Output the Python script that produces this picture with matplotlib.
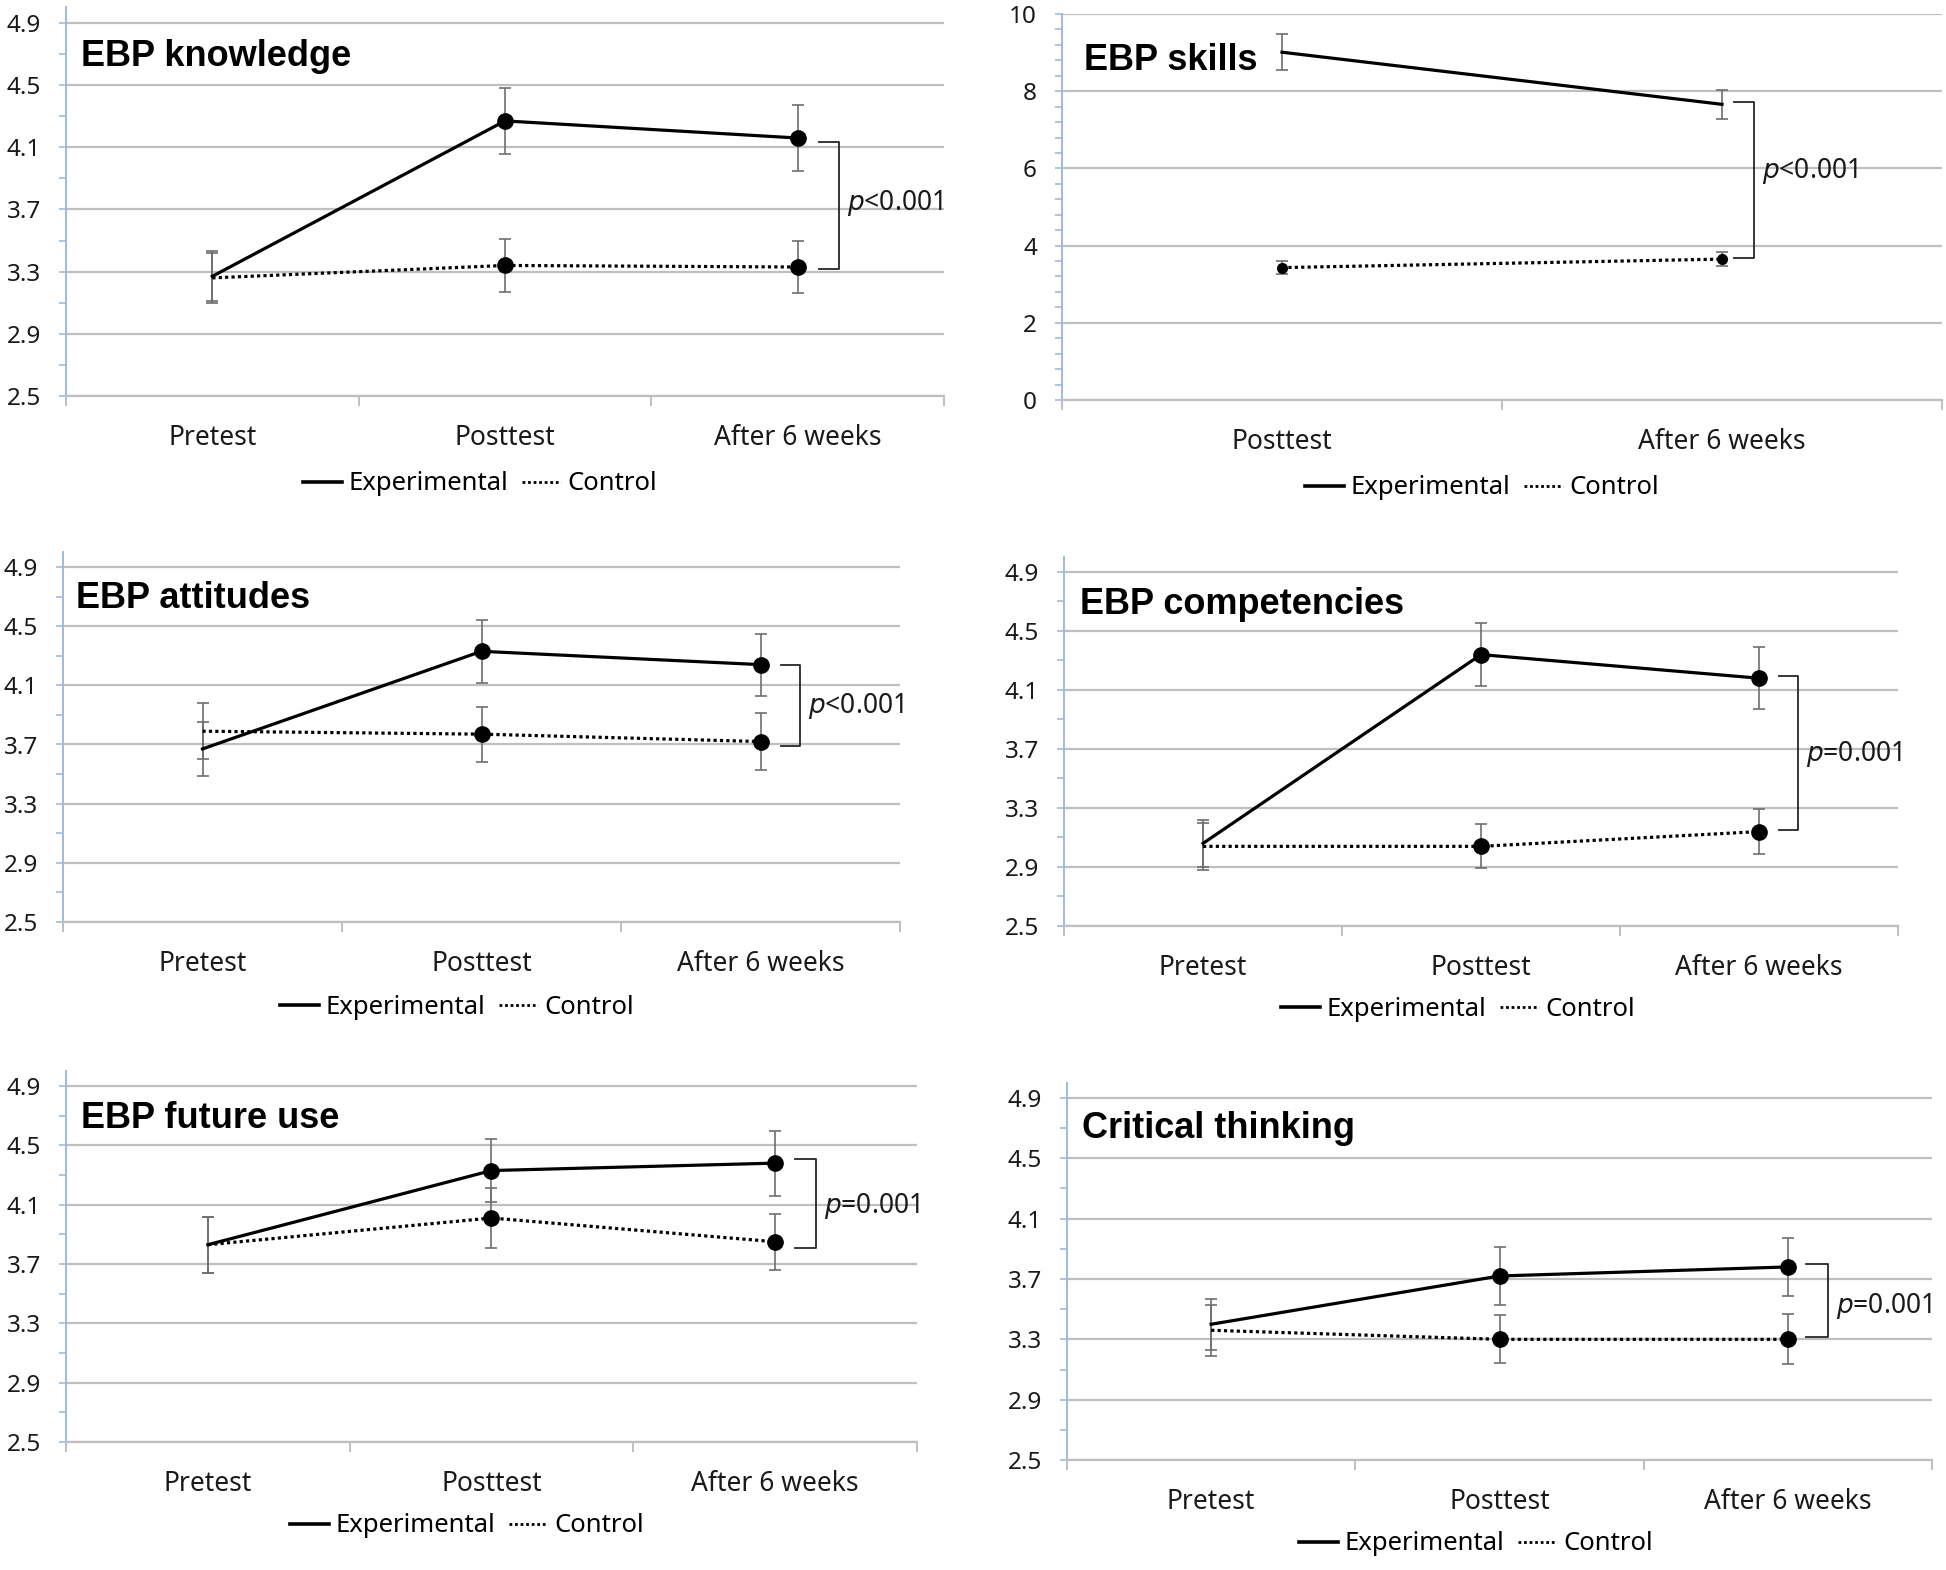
import matplotlib

matplotlib.use("Agg")
import matplotlib.pyplot as plt
from matplotlib.lines import Line2D
import numpy as np

plt.rcParams["font.family"] = ["Noto Sans", "DejaVu Sans"]

# ---- data ----
stages = ["Pretest", "Posttest", "After 6 weeks"]
stages_skills = ["Posttest", "After 6 weeks"]

knowledge_exp = [3.27, 4.27, 4.16]
knowledge_exp_err = [0.16, 0.21, 0.21]
knowledge_ctl = [3.26, 3.34, 3.33]
knowledge_ctl_err = [0.16, 0.17, 0.17]

skills_exp = [9.01, 7.66]
skills_exp_err = [0.46, 0.38]
skills_ctl = [3.43, 3.65]
skills_ctl_err = [0.17, 0.19]

attitudes_exp = [3.67, 4.33, 4.24]
attitudes_exp_err = [0.185, 0.215, 0.21]
attitudes_ctl = [3.79, 3.77, 3.72]
attitudes_ctl_err = [0.19, 0.185, 0.19]

competencies_exp = [3.06, 4.34, 4.18]
competencies_exp_err = [0.16, 0.215, 0.21]
competencies_ctl = [3.04, 3.04, 3.14]
competencies_ctl_err = [0.16, 0.15, 0.155]

future_exp = [3.83, 4.33, 4.38]
future_exp_err = [0.19, 0.215, 0.22]
future_ctl = [3.83, 4.01, 3.85]
future_ctl_err = [0.19, 0.20, 0.19]

critical_exp = [3.40, 3.72, 3.78]
critical_exp_err = [0.17, 0.19, 0.19]
critical_ctl = [3.36, 3.30, 3.30]
critical_ctl_err = [0.17, 0.16, 0.165]

titles = ["EBP knowledge", "EBP skills", "EBP attitudes",
          "EBP competencies", "EBP future use", "Critical thinking"]
p_labels = [r"$p$<0.001", r"$p$<0.001", r"$p$<0.001",
            r"$p$=0.001", r"$p$=0.001", r"$p$=0.001"]

# ---- layout (pixels in a 1946x1570 canvas) ----
W, H = 1946, 1570
SPINE_BLUE = "#9DBBDD"
GRID_GRAY = "#BFBFBF"
ERR_GRAY = "#6E6E6E"
TITLE_FONT = ["Liberation Sans", "DejaVu Sans"]

panels = [
    dict(cats=stages, exp=knowledge_exp, exp_err=knowledge_exp_err,
         ctl=knowledge_ctl, ctl_err=knowledge_ctl_err,
         box=(66, 944, 23, 396), ymin=2.5, ytop=4.9, ymax=5.0, step=0.4,
         title_px=(81, 57), legend_px=(480, 484),
         bracket=(2.073, 2.141, 2.17, 4.134, 3.316, 3.74)),
    dict(cats=stages_skills, exp=skills_exp, exp_err=skills_exp_err,
         ctl=skills_ctl, ctl_err=skills_ctl_err,
         box=(1062, 1942, 14, 400), ymin=0, ytop=10, ymax=10, step=2,
         title_px=(1084, 61), legend_px=(1482, 488),
         bracket=(1.027, 1.072, 1.092, 7.72, 3.68, 5.92)),
    dict(cats=stages, exp=attitudes_exp, exp_err=attitudes_exp_err,
         ctl=attitudes_ctl, ctl_err=attitudes_ctl_err,
         box=(63, 900, 567, 922), ymin=2.5, ytop=4.9, ymax=5.0, step=0.4,
         title_px=(76, 598), legend_px=(457, 1007),
         bracket=(2.075, 2.142, 2.17, 4.238, 3.69, 3.957)),
    dict(cats=stages, exp=competencies_exp, exp_err=competencies_exp_err,
         ctl=competencies_ctl, ctl_err=competencies_ctl_err,
         box=(1064, 1898, 572, 926), ymin=2.5, ytop=4.9, ymax=5.0, step=0.4,
         title_px=(1080, 604), legend_px=(1458, 1009),
         bracket=(2.071, 2.141, 2.168, 4.193, 3.149, 3.668)),
    dict(cats=stages, exp=future_exp, exp_err=future_exp_err,
         ctl=future_ctl, ctl_err=future_ctl_err,
         box=(66, 917, 1086, 1442), ymin=2.5, ytop=4.9, ymax=5.0, step=0.4,
         title_px=(81, 1118), legend_px=(467, 1526),
         bracket=(2.069, 2.145, 2.172, 4.408, 3.808, 4.089)),
    dict(cats=stages, exp=critical_exp, exp_err=critical_exp_err,
         ctl=critical_ctl, ctl_err=critical_ctl_err,
         box=(1067, 1932, 1098, 1460), ymin=2.5, ytop=4.9, ymax=5.0, step=0.4,
         title_px=(1082, 1129), legend_px=(1476, 1544),
         bracket=(2.063, 2.141, 2.168, 3.798, 3.318, 3.518)),
]

fig = plt.figure(figsize=(W / 100, H / 100), dpi=100, facecolor="white")

for i, spec in enumerate(panels):
    x0, x1, y_top_px, y_bot_px = spec["box"]
    ppu = (y_bot_px - y_top_px) / (spec["ytop"] - spec["ymin"])
    ax_top_px = y_top_px - (spec["ymax"] - spec["ytop"]) * ppu
    ax = fig.add_axes([x0 / W, 1 - y_bot_px / H, (x1 - x0) / W,
                       (y_bot_px - ax_top_px) / H])

    n = len(spec["cats"])
    x = np.arange(n)
    two_cat = n == 2

    # error bars behind the lines
    ax.errorbar(x, spec["exp"], yerr=spec["exp_err"], fmt="none",
                ecolor=ERR_GRAY, elinewidth=1.2, capsize=4, capthick=1.2, zorder=2)
    ax.errorbar(x, spec["ctl"], yerr=spec["ctl_err"], fmt="none",
                ecolor=ERR_GRAY, elinewidth=1.2, capsize=4, capthick=1.2, zorder=2)

    if two_cat:
        ax.plot(x, spec["exp"], color="black", lw=2.3, zorder=3)
        ax.plot(x, spec["ctl"], color="black", lw=2.3, ls=(0, (1, 1)),
                marker="o", ms=7, zorder=3)
    else:
        ax.plot(x, spec["exp"], color="black", lw=2.3, marker="o", ms=11,
                markevery=[1, 2], zorder=4)
        ax.plot(x, spec["ctl"], color="black", lw=2.3, ls=(0, (1, 1)),
                marker="o", ms=11, markevery=[1, 2], zorder=3)

    # significance bracket
    xa, xv, xt, yt, yb, ytxt = spec["bracket"]
    ax.plot([xa, xv, xv, xa], [yt, yt, yb, yb], color="#262626", lw=1.3,
            clip_on=False, zorder=3)
    ax.text(xt, ytxt, p_labels[i], fontsize=19, ha="left", va="center",
            color="#1a1a1a")

    # axes styling
    ax.set_xlim(-0.5, n - 0.5)
    ax.set_ylim(spec["ymin"], spec["ymax"])
    majors = np.arange(spec["ymin"], spec["ytop"] + 1e-6, spec["step"])
    minors = np.arange(spec["ymin"], spec["ytop"] + 1e-6, spec["step"] / 2)
    if two_cat:
        minors = np.arange(spec["ymin"], spec["ytop"] + 1e-6, spec["step"] / 5)
    ax.set_yticks(majors)
    ax.set_yticks(minors, minor=True)
    if two_cat:
        ax.set_yticklabels([f"{v:.0f}" for v in majors])
    else:
        ax.set_yticklabels([f"{v:.1f}" for v in majors])
    ax.yaxis.grid(True, which="major", color=GRID_GRAY, lw=1.6, zorder=0)
    ax.set_axisbelow(True)
    ax.tick_params(axis="y", which="both", direction="out", length=5,
                   width=1.2, color=SPINE_BLUE, labelsize=17.5, pad=13,
                   labelcolor="#1a1a1a")

    ax.set_xticks(x)
    ax.set_xticklabels(spec["cats"])
    ax.set_xticks(np.arange(n + 1) - 0.5, minor=True)
    ax.tick_params(axis="x", which="major", length=0, labelsize=19,
                   pad=20, labelcolor="#1a1a1a")
    ax.tick_params(axis="x", which="minor", direction="out", length=7,
                   width=1.4, color=GRID_GRAY)

    for side in ("top", "right"):
        ax.spines[side].set_visible(False)
    ax.spines["left"].set_color(SPINE_BLUE)
    ax.spines["left"].set_linewidth(1.4)
    ax.spines["bottom"].set_color(GRID_GRAY)
    ax.spines["bottom"].set_linewidth(1.6)

    tx, ty = spec["title_px"]
    fig.text(tx / W, 1 - ty / H, titles[i], fontsize=26, fontweight="bold",
             family=TITLE_FONT, ha="left", va="center", color="black")

    handles = [Line2D([], [], color="black", lw=2.6),
               Line2D([], [], color="black", lw=2.0, ls=(0, (1, 1)))]
    lx, ly = spec["legend_px"]
    fig.legend(handles, ["Experimental", "Control"], loc="center",
               bbox_to_anchor=(lx / W, 1 - ly / H), ncol=2, frameon=False,
               fontsize=18.5, handlelength=1.5, handletextpad=0.25,
               columnspacing=0.55, borderaxespad=0)

fig.savefig("out.png", dpi=100, facecolor="white")
plt.close(fig)
